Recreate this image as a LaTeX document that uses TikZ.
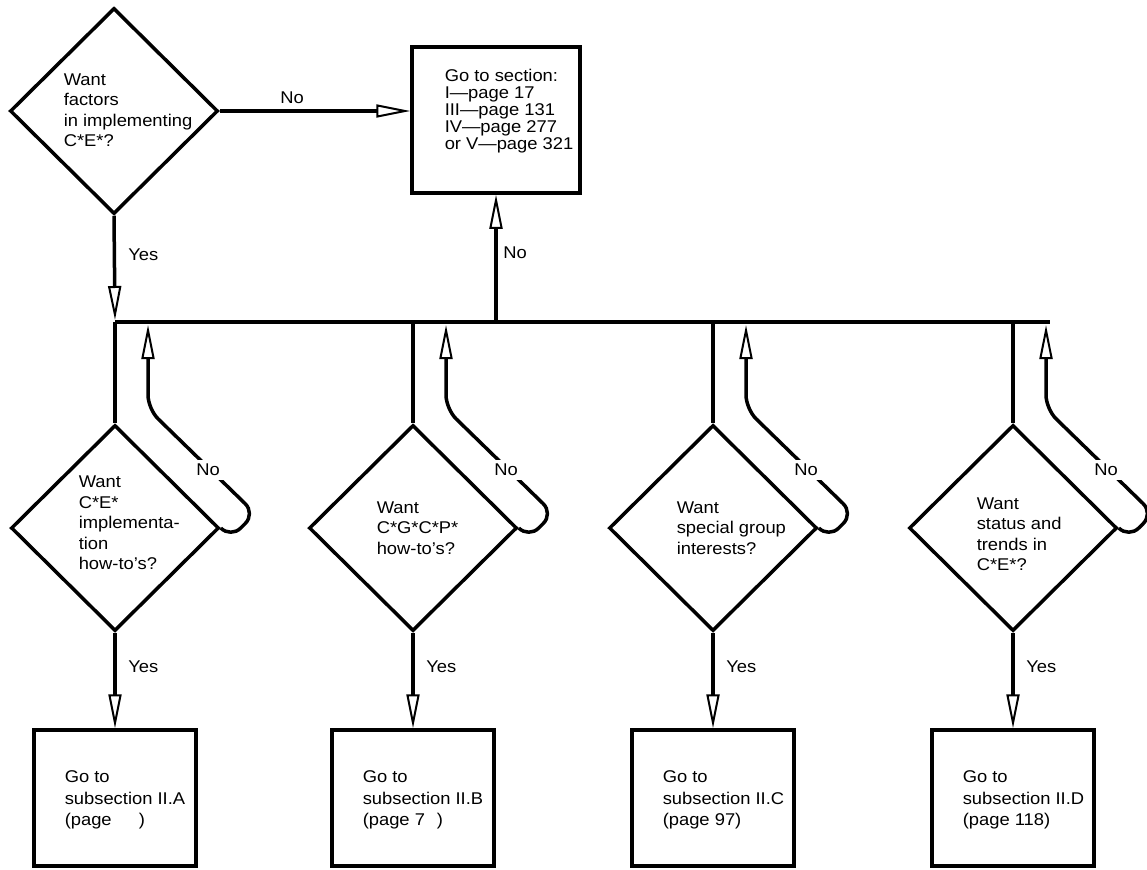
\documentclass[tikz,border=0pt]{standalone}
\usepackage{fontspec}
\setmainfont{Liberation Sans}[FakeStretch=1.08]
\usetikzlibrary{shapes.geometric,arrows.meta,calc}
\begin{document}
\begin{tikzpicture}[x=1pt,y=-1pt,
  line width=3.5pt,
  dia/.style={draw, diamond, shape aspect=1, minimum width=208pt, minimum height=206pt, inner sep=0pt},
  topbox/.style={draw, rectangle, minimum width=168pt, minimum height=146pt, inner sep=0pt},
  subbox/.style={draw, rectangle, minimum width=162pt, minimum height=136pt, inner sep=0pt},
  qtext/.style={font=\fontsize{17}{20.5}\selectfont, align=left, inner sep=0pt, anchor=west},
  btext/.style={font=\fontsize{17}{17}\selectfont, align=left, inner sep=0pt, anchor=north west},
  stext/.style={font=\fontsize{17}{21.5}\selectfont, align=left, inner sep=0pt, anchor=north west},
  lab/.style={font=\fontsize{17}{20}\selectfont, inner sep=1.5pt},
  cutlab/.style={font=\fontsize{17}{20}\selectfont, fill=white, inner sep=4pt},
  arr/.style={-{Triangle[open,length=34pt,width=13pt,line width=2pt]}}
]
\useasboundingbox (0,0) rectangle (1147,869);
\fill[white] (0,0) rectangle (1147,869);

% top decision and box
\node[dia] (q0) at (114,111) {};
\node[qtext] (t0) at (62,110) {Want\\factors\\in implementing\\C*E*?};
\node[topbox] (b0) at (496,120) {};
\node[btext] (tb0) at (443,67) {Go to section:\\I\textemdash page 17\\III\textemdash page 131\\IV\textemdash page 277\\or V\textemdash page 321};

% lower decisions
\node[dia] (q1) at (115,528) {};
\node[dia] (q2) at (413,528) {};
\node[dia] (q3) at (713,528) {};
\node[dia] (q4) at (1013,528) {};
\node[qtext] (t1) at (77,523) {Want\\C*E*\\implementa-\\tion\\how-to's?};
\node[qtext] (t2) at (375,528) {Want\\C*G*C*P*\\how-to's?};
\node[qtext] (t3) at (675,528) {Want\\special group\\interests?};
\node[qtext] (t4) at (975,534) {Want\\status and\\trends in\\C*E*?};

% target boxes
\node[subbox] (s1) at (115,798) {};
\node[subbox] (s2) at (413,798) {};
\node[subbox] (s3) at (713,798) {};
\node[subbox] (s4) at (1013,798) {};
\node[stext] (ts1) at (63,769) {Go to\\subsection II.A\\(page\hspace{1.6em})};
\node[stext] (ts2) at (361,769) {Go to\\subsection II.B\\(page 7\hspace{0.7em})};
\node[stext] (ts3) at (661,769) {Go to\\subsection II.C\\(page 97)};
\node[stext] (ts4) at (961,769) {Go to\\subsection II.D\\(page 118)};

% bus
\coordinate (busL) at (115,322);
\coordinate (busR) at (1050,322);
\draw[arr] (q0.south) -- (115,320);
\draw (busL) -- (busR);

% top connectors
\draw[arr] (q0.east) -- (q0.east -| b0.west);
\node[lab] (no0) at (292,98) {No};
\draw[arr] (busL -| b0.south) -- (b0.south);
\node[lab, anchor=west] (nob) at (500,253) {No};
\node[lab, anchor=west] (y0) at (125,255) {Yes};

% bus to lower decisions
\draw (q1.north |- busL) -- (q1.north);
\draw (q2.north |- busL) -- (q2.north);
\draw (q3.north |- busL) -- (q3.north);
\draw (q4.north |- busL) -- (q4.north);

% yes arrows
\draw[arr] (q1.south) -- (s1.north);
\draw[arr] (q2.south) -- (s2.north);
\draw[arr] (q3.south) -- (s3.north);
\draw[arr] (q4.south) -- (s4.north);
\node[lab, anchor=west] (y1) at (125,667) {Yes};
\node[lab, anchor=west] (y2) at (423,667) {Yes};
\node[lab, anchor=west] (y3) at (723,667) {Yes};
\node[lab, anchor=west] (y4) at (1023,667) {Yes};

% no loops back to bus
\draw[arr, rounded corners=14pt] (q1.east) -- ++(10,10) -- ++(24.5,-24.5) -- (148,409) -- (148,325);
\draw[arr, rounded corners=14pt] (q2.east) -- ++(10,10) -- ++(24.5,-24.5) -- (446,409) -- (446,325);
\draw[arr, rounded corners=14pt] (q3.east) -- ++(10,10) -- ++(24.5,-24.5) -- (746,409) -- (746,325);
\draw[arr, rounded corners=14pt] (q4.east) -- ++(10,10) -- ++(24.5,-24.5) -- (1046,409) -- (1046,325);
\node[cutlab] (n1) at (208,470) {No};
\node[cutlab] (n2) at (506,470) {No};
\node[cutlab] (n3) at (806,470) {No};
\node[cutlab] (n4) at (1106,470) {No};
\end{tikzpicture}
\end{document}
